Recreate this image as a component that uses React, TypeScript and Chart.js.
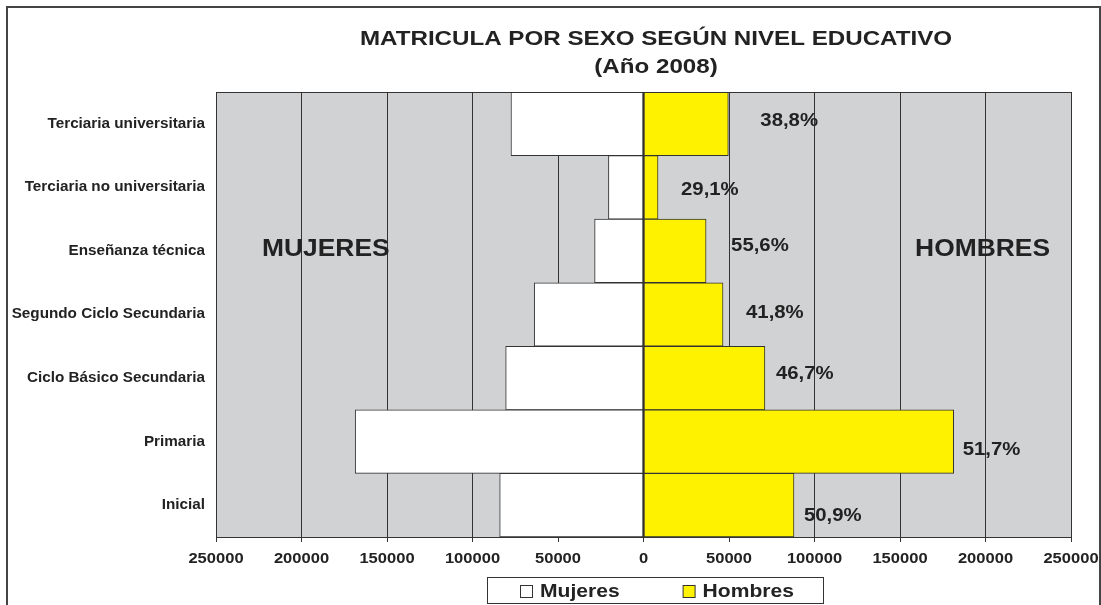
import React, { useEffect, useRef } from 'react';
import { Chart, registerables } from 'chart.js';

Chart.register(...registerables);

const categories = [
  'Terciaria universitaria',
  'Terciaria no universitaria',
  'Enseñanza técnica',
  'Segundo Ciclo Secundaria',
  'Ciclo Básico Secundaria',
  'Primaria',
  'Inicial',
];
const mujeres = [77500, 20500, 28600, 63900, 80600, 168600, 84100];
const hombres = [49600, 8500, 36600, 46500, 71000, 181400, 88000];
const porcentajes = ['38,8%', '29,1%', '55,6%', '41,8%', '46,7%', '51,7%', '50,9%'];
const titleLines = ['MATRICULA POR SEXO SEGÚN NIVEL EDUCATIVO', '(Año 2008)'];
const sideLabels = ['MUJERES', 'HOMBRES'];

// label nudges (style only): offset from bar end / row centre
const pctDx = [32, 23, 25, 23, 11, 9, 10];
const pctDy = [-3, 3, -5, -1, -4, 8, 11];

const TEXT = '#222222';
const FONT = '"Liberation Sans", Arial, Helvetica, sans-serif';

function drawStretched(
  ctx: CanvasRenderingContext2D,
  text: string,
  x: number,
  y: number,
  align: 'left' | 'center' | 'right',
  stretch: number
) {
  const w = ctx.measureText(text).width * stretch;
  const left = align === 'center' ? x - w / 2 : align === 'right' ? x - w : x;
  ctx.save();
  ctx.translate(left, y);
  ctx.scale(stretch, 1);
  ctx.textAlign = 'left';
  ctx.fillText(text, 0, 0);
  ctx.restore();
}

const decorPlugin = {
  id: 'decor',
  beforeDraw(chart: any) {
    const { ctx, chartArea: a } = chart;
    ctx.save();
    ctx.fillStyle = '#FFFFFF';
    ctx.fillRect(0, 0, chart.width, chart.height);
    ctx.fillStyle = '#D1D2D4';
    ctx.fillRect(a.left, a.top, a.right - a.left, a.bottom - a.top);
    ctx.restore();
  },
  afterDatasetsDraw(chart: any) {
    const { ctx, chartArea: a } = chart;
    ctx.save();
    ctx.strokeStyle = '#333333';
    ctx.lineWidth = 1;
    ctx.strokeRect(Math.round(a.left) + 0.5, Math.round(a.top) + 0.5, Math.round(a.right - a.left), Math.round(a.bottom - a.top));
    ctx.restore();
  },
  afterDraw(chart: any) {
    const { ctx, chartArea: a } = chart;
    const xs = chart.scales.x;
    const ys = chart.scales.y;
    ctx.save();
    ctx.fillStyle = TEXT;
    ctx.textBaseline = 'middle';

    // title
    ctx.font = `bold 21px ${FONT}`;
    drawStretched(ctx, titleLines[0], 656, 39, 'center', 1.15);
    drawStretched(ctx, titleLines[1], 656, 67, 'center', 1.15);

    // side labels
    ctx.font = `bold 24px ${FONT}`;
    drawStretched(ctx, sideLabels[0], 262, 249, 'left', 1.1);
    drawStretched(ctx, sideLabels[1], 1050, 249, 'right', 1.1);

    // category labels
    ctx.font = `bold 14px ${FONT}`;
    categories.forEach((c, i) => {
      drawStretched(ctx, c, a.left - 11, ys.getPixelForValue(i), 'right', 1.09);
    });

    // x tick labels
    ctx.font = `bold 14px ${FONT}`;
    xs.ticks.forEach((t: any) => {
      drawStretched(ctx, String(Math.abs(t.value)), xs.getPixelForValue(t.value), a.bottom + 22, 'center', 1.18);
    });

    // percentage labels
    ctx.font = `bold 18px ${FONT}`;
    porcentajes.forEach((p, i) => {
      const x = xs.getPixelForValue(hombres[i]) + pctDx[i];
      const y = ys.getPixelForValue(i) + pctDy[i];
      drawStretched(ctx, p, x, y, 'left', 1.13);
    });

    // legend
    const lx = 487, ly = 577, lw = 336, lh = 26;
    ctx.fillStyle = '#FFFFFF';
    ctx.fillRect(lx, ly, lw, lh);
    ctx.strokeStyle = '#333333';
    ctx.lineWidth = 1;
    ctx.strokeRect(lx + 0.5, ly + 0.5, lw, lh);
    ctx.font = `bold 18px ${FONT}`;
    let cx = 520;
    chart.data.datasets.forEach((ds: any) => {
      ctx.fillStyle = ds.backgroundColor;
      ctx.fillRect(cx + 0.5, 585.5, 12, 12);
      ctx.strokeStyle = '#333333';
      ctx.strokeRect(cx + 0.5, 585.5, 12, 12);
      ctx.fillStyle = TEXT;
      const tw = ctx.measureText(ds.label).width * 1.17;
      drawStretched(ctx, ds.label, cx + 20, 592, 'left', 1.17);
      cx += 20 + tw + 63;
    });

    // outer frame
    ctx.strokeStyle = '#444444';
    ctx.lineWidth = 2;
    ctx.strokeRect(7, 7, 1093, 700);
    ctx.restore();
  },
};

export default function App() {
  const ref = useRef<HTMLCanvasElement | null>(null);

  useEffect(() => {
    if (!ref.current) return;
    const chart = new Chart(ref.current, {
      type: 'bar',
      data: {
        labels: categories,
        datasets: [
          {
            label: 'Mujeres',
            data: mujeres.map((v) => -v),
            backgroundColor: '#FFFFFF',
            borderColor: '#333333',
            borderWidth: 1,
            borderSkipped: false,
            barPercentage: 1,
            categoryPercentage: 1,
          },
          {
            label: 'Hombres',
            data: hombres,
            backgroundColor: '#FFF200',
            borderColor: '#333333',
            borderWidth: 1,
            borderSkipped: false,
            barPercentage: 1,
            categoryPercentage: 1,
          },
        ],
      },
      options: {
        indexAxis: 'y',
        responsive: false,
        animation: false,
        layout: { padding: { left: 0, right: 30, top: 92, bottom: 38 } },
        plugins: {
          legend: { display: false },
          tooltip: { enabled: false },
          title: { display: false },
        },
        scales: {
          x: {
            type: 'linear',
            stacked: true,
            min: -250000,
            max: 250000,
            ticks: { display: false, stepSize: 50000 },
            grid: { color: '#333333', lineWidth: 1, drawTicks: true, tickLength: 5 },
            border: { display: false },
            afterFit: (s: any) => {
              s.height = 30;
            },
          },
          y: {
            type: 'category',
            stacked: true,
            ticks: { display: false },
            grid: { display: false },
            border: { display: false },
            afterFit: (s: any) => {
              s.width = 216;
            },
          },
        },
      },
      plugins: [decorPlugin],
    } as any);
    return () => chart.destroy();
  }, []);

  return (
    <div style={{ position: 'absolute', left: 0, top: 0, width: 1101, height: 605 }}>
      <canvas ref={ref} width={1101} height={605} style={{ width: 1101, height: 605, display: 'block' }} />
    </div>
  );
}
